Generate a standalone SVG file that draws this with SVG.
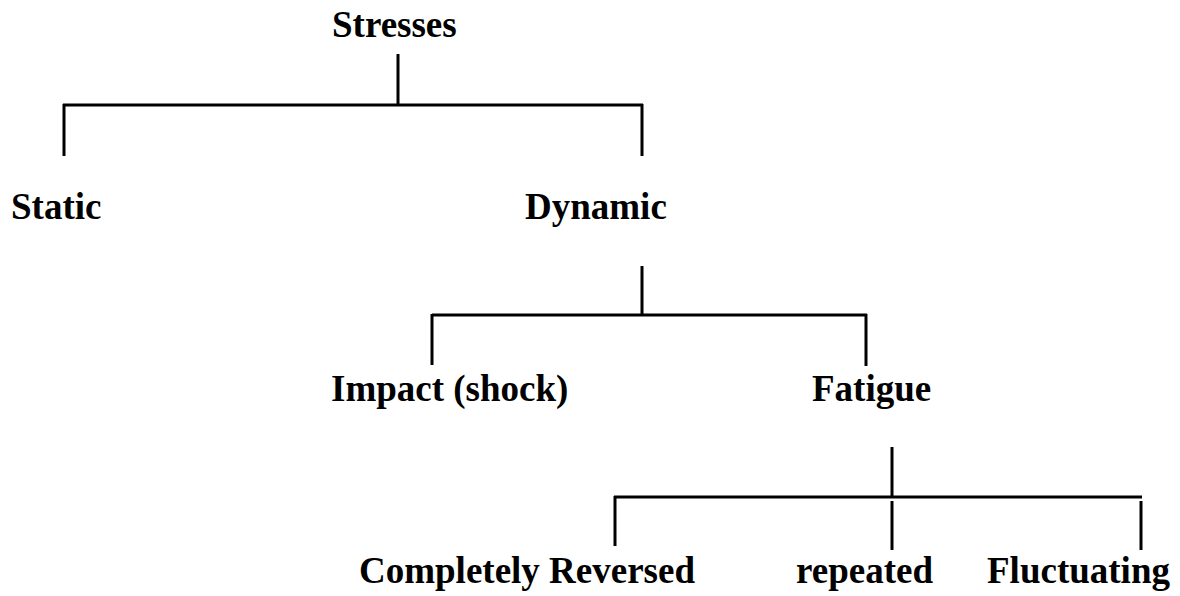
<svg xmlns="http://www.w3.org/2000/svg" width="1180" height="596" viewBox="0 0 1180 596">
<style>
.t{font-family:"Liberation Serif","Times New Roman",serif;font-weight:bold;font-size:37px;fill:#000}
.c line{stroke:#000;stroke-width:3;stroke-linecap:butt}
</style>
<rect width="1180" height="596" fill="#fff"/>
<g class="c" id="connectors">
<line x1="398" y1="54" x2="398" y2="105"/>
<line x1="63" y1="105" x2="643" y2="105"/>
<line x1="64" y1="104" x2="64" y2="156"/>
<line x1="642" y1="104" x2="642" y2="156"/>
<line x1="642" y1="266" x2="642" y2="315"/>
<line x1="432" y1="315" x2="867" y2="315"/>
<line x1="432" y1="314" x2="432" y2="365"/>
<line x1="866" y1="314" x2="866" y2="366"/>
<line x1="892" y1="447" x2="892" y2="497"/>
<line x1="614" y1="497" x2="1142" y2="497"/>
<line x1="615" y1="496" x2="615" y2="546"/>
<line x1="892" y1="501" x2="892" y2="550"/>
<line x1="1141" y1="501" x2="1141" y2="550"/>
</g>
<g id="n-stresses"><text class="t" x="332" y="37">Stresses</text></g>
<g id="n-static"><text class="t" x="11" y="219">Static</text></g>
<g id="n-dynamic"><text class="t" x="525" y="219">Dynamic</text></g>
<g id="n-impact"><text class="t" x="331" y="401">Impact (shock)</text></g>
<g id="n-fatigue"><text class="t" x="812" y="401">Fatigue</text></g>
<g id="n-reversed"><text class="t" x="359" y="583">Completely Reversed</text></g>
<g id="n-repeated"><text class="t" x="796" y="583">repeated</text></g>
<g id="n-fluctuating"><text class="t" x="987" y="583">Fluctuating</text></g>
</svg>
